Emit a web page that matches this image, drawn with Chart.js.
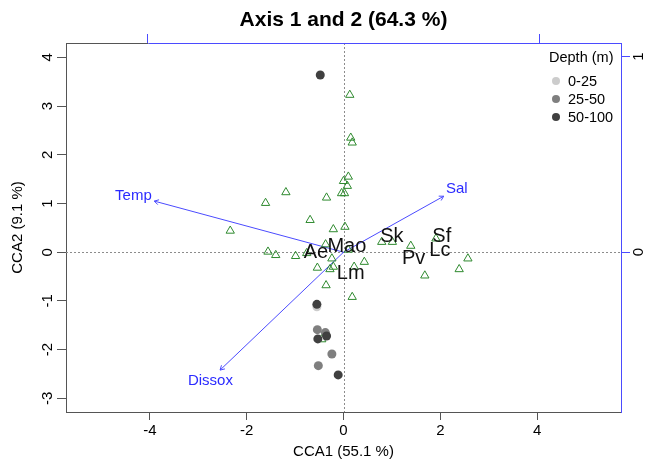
<!DOCTYPE html>
<html><head><meta charset="utf-8">
<script src="https://cdn.jsdelivr.net/npm/chart.js@4/dist/chart.umd.min.js"></script>
<style>html,body{margin:0;padding:0;background:#fff}#wrap{width:650px;height:465px}</style>
</head><body><div id="wrap"><canvas id="c" width="650" height="465"></canvas></div>
<script>
const titleText = 'Axis 1 and 2 (64.3 %)';
const xTitle = 'CCA1 (55.1 %)';
const yTitle = 'CCA2 (9.1 %)';
const xTicks = [-4, -2, 0, 2, 4];
const yTicks = [-3, -2, -1, 0, 1, 2, 3, 4];
const x2Ticks = [-1, 1];
const y2Ticks = [0, 1];

// green triangles
const triX = [0.13, 0.15, 0.18, 0.10, 0.00, 0.08, -0.04, 0.02, -1.19, -0.35, -1.61, -2.34, -0.69, -0.21, 0.03,
  -1.56, -1.40, -0.99, -0.76, -0.37, -0.24, -0.54, -0.28, -0.21, 0.10, 0.22, 0.43, -0.36, 0.18,
  0.79, 1.01, 1.39, 1.91, 1.68, 2.57, 2.39, -0.45];
const triY = [3.23, 2.35, 2.25, 1.55, 1.46, 1.36, 1.21, 1.21, 1.23, 1.12, 1.01, 0.44, 0.66, 0.47, 0.52,
  0.01, -0.06, -0.08, -0.02, 0.16, -0.13, -0.32, -0.35, -0.30, 0.05, -0.30, -0.20, -0.68, -0.92,
  0.21, 0.21, 0.13, 0.28, -0.48, -0.13, -0.35, -1.79];

// species labels
const speciesNames = ['Ae', 'Mao', 'Lm', 'Sk', 'Sf', 'Lc', 'Pv'];
const speciesX = [-0.57, 0.07, 0.15, 1.00, 2.03, 1.99, 1.45];
const speciesY = [0.02, 0.15, -0.41, 0.35, 0.35, 0.07, -0.09];

// environmental arrows
const envNames = ['Temp', 'Sal', 'Dissox'];
const envX = [-3.91, 2.07, -2.55];
const envY = [1.05, 1.15, -2.42];
const envLabelX = [-4.34, 2.34, -2.75];
const envLabelY = [1.19, 1.32, -2.62];

// sites by depth
const depthLabels = ['0-25', '25-50', '50-100'];
const depthColors = ['#cccccc', '#7f7f7f', '#404040'];
const d1X = [-0.55];
const d1Y = [-1.12];
const d2X = [-0.54, -0.375, -0.24, -0.52];
const d2Y = [-1.59, -1.65, -2.09, -2.33];
const d3X = [-0.48, -0.55, -0.53, -0.35, -0.11];
const d3Y = [3.64, -1.07, -1.78, -1.72, -2.52];

const FAM = '"Liberation Sans", Arial, Helvetica, sans-serif';
const BLUE = '#4b4bff';
const BLUET = '#2b2bff';
const GRAY = '#555555';

const pts = (xs, ys) => xs.map((v, i) => ({x: v, y: ys[i]}));

const overlay = {
  id: 'overlay',
  beforeDatasetsDraw(chart) {
    const {ctx, chartArea: a, scales: {x, y}} = chart;
    ctx.save();
    ctx.strokeStyle = '#8c8c8c';
    ctx.lineWidth = 1;
    ctx.setLineDash([2, 2]);
    const px = Math.round(x.getPixelForValue(0)) + 0.5;
    const py = Math.round(y.getPixelForValue(0)) + 0.5;
    ctx.beginPath();
    ctx.moveTo(px, a.top); ctx.lineTo(px, a.bottom);
    ctx.moveTo(a.left, py); ctx.lineTo(a.right, py);
    ctx.stroke();
    ctx.setLineDash([]);
    // arrows
    ctx.strokeStyle = BLUE;
    ctx.lineWidth = 1;
    const ox = x.getPixelForValue(0), oy = y.getPixelForValue(0);
    envX.forEach((ex, i) => {
      const tx = x.getPixelForValue(ex), ty = y.getPixelForValue(envY[i]);
      ctx.beginPath(); ctx.moveTo(ox, oy); ctx.lineTo(tx, ty); ctx.stroke();
      const ang = Math.atan2(ty - oy, tx - ox);
      const L = 5, w = Math.PI / 6;
      ctx.beginPath();
      ctx.moveTo(tx - L * Math.cos(ang - w), ty - L * Math.sin(ang - w));
      ctx.lineTo(tx, ty);
      ctx.lineTo(tx - L * Math.cos(ang + w), ty - L * Math.sin(ang + w));
      ctx.stroke();
    });
    ctx.restore();
  },
  afterDatasetsDraw(chart) {
    const {ctx, chartArea: a, scales: {x, y, x2, y2}} = chart;
    ctx.save();
    // species labels
    ctx.fillStyle = '#111';
    ctx.font = '20px ' + FAM;
    ctx.textAlign = 'center';
    ctx.textBaseline = 'alphabetic';
    speciesNames.forEach((n, i) => {
      ctx.fillText(n, x.getPixelForValue(speciesX[i]), y.getPixelForValue(speciesY[i]) + 7.2);
    });
    // env labels
    ctx.fillStyle = BLUET;
    ctx.font = '15px ' + FAM;
    envNames.forEach((n, i) => {
      ctx.fillText(n, x.getPixelForValue(envLabelX[i]), y.getPixelForValue(envLabelY[i]) + 5.4);
    });
    // top border: gray then blue
    const tb = Math.round(a.top) + 0.5;
    const xm1 = Math.round(x2.getPixelForValue(x2Ticks[0])) + 0.5;
    ctx.lineWidth = 1;
    ctx.strokeStyle = GRAY;
    ctx.beginPath(); ctx.moveTo(a.left, tb); ctx.lineTo(xm1, tb); ctx.stroke();
    ctx.strokeStyle = BLUE;
    ctx.beginPath(); ctx.moveTo(xm1, tb); ctx.lineTo(a.right, tb); ctx.stroke();
    // rotated y tick labels
    ctx.fillStyle = '#000';
    ctx.font = '15px ' + FAM;
    ctx.textAlign = 'center';
    ctx.textBaseline = 'alphabetic';
    yTicks.forEach(v => {
      ctx.save();
      ctx.translate(52.4, y.getPixelForValue(v));
      ctx.rotate(-Math.PI / 2);
      ctx.fillText(String(v), 0, 0);
      ctx.restore();
    });
    y2Ticks.forEach(v => {
      ctx.save();
      ctx.translate(643.4, y2.getPixelForValue(v));
      ctx.rotate(-Math.PI / 2);
      ctx.fillText(String(v), 0, 0);
      ctx.restore();
    });
    // title
    ctx.font = 'bold 21px ' + FAM;
    ctx.fillText(titleText, (a.left + a.right) / 2, 25.5);
    // legend
    ctx.font = '14.5px ' + FAM;
    ctx.textAlign = 'left';
    ctx.fillStyle = '#000';
    ctx.fillText('Depth (m)', 549, 62);
    depthLabels.forEach((lab, i) => {
      const cy = 81 + i * 18;
      ctx.fillStyle = depthColors[i];
      ctx.beginPath(); ctx.arc(556, cy, 4, 0, Math.PI * 2); ctx.fill();
      ctx.fillStyle = '#000';
      ctx.fillText(lab, 568, cy + 5.2);
    });
    ctx.restore();
  }
};

new Chart(document.getElementById('c'), {
  type: 'scatter',
  data: {
    datasets: [
      {label: depthLabels[2], data: pts(d3X, d3Y), pointStyle: 'circle', pointRadius: 4.5,
        backgroundColor: depthColors[2], borderColor: depthColors[2], borderWidth: 0, order: 0},
      {label: depthLabels[1], data: pts(d2X, d2Y), pointStyle: 'circle', pointRadius: 4.5,
        backgroundColor: depthColors[1], borderColor: depthColors[1], borderWidth: 0, order: 1},
      {label: depthLabels[0], data: pts(d1X, d1Y), pointStyle: 'circle', pointRadius: 4.5,
        backgroundColor: depthColors[0], borderColor: depthColors[0], borderWidth: 0, order: 2},
      {label: 'species', data: pts(triX, triY), pointStyle: 'triangle', pointRadius: 4.8,
        backgroundColor: 'rgba(0,0,0,0)', borderColor: '#2f8a2f', borderWidth: 1, order: 3}
    ]
  },
  options: {
    responsive: false,
    animation: false,
    devicePixelRatio: 1,
    layout: {padding: 0},
    plugins: {legend: {display: false}, tooltip: {enabled: false}, title: {display: false}},
    scales: {
      x: {
        type: 'linear', position: 'bottom', min: -5.733, max: 5.733,
        afterBuildTicks: s => { s.ticks = xTicks.map(v => ({value: v})); },
        afterFit: s => { s.height = 53; },
        grid: {drawOnChartArea: false, drawTicks: true, tickLength: 8, color: GRAY, tickColor: GRAY, lineWidth: 1},
        border: {display: true, color: GRAY, width: 1},
        ticks: {color: '#000', font: {size: 15, family: FAM}, padding: 2, maxRotation: 0, autoSkip: false},
        title: {display: true, text: xTitle, color: '#000', font: {size: 15, family: FAM}, padding: {top: 0, bottom: 4}}
      },
      y: {
        type: 'linear', position: 'left', min: -3.281, max: 4.296,
        afterBuildTicks: s => { s.ticks = yTicks.map(v => ({value: v})); },
        afterFit: s => { s.width = 66; },
        grid: {drawOnChartArea: false, drawTicks: true, tickLength: 9, color: GRAY, tickColor: GRAY, lineWidth: 1},
        border: {display: true, color: GRAY, width: 1},
        ticks: {display: false},
        title: {display: true, text: yTitle, color: '#000', font: {size: 15, family: FAM}, padding: {top: 9, bottom: 0}}
      },
      x2: {
        type: 'linear', position: 'top', min: -1.419, max: 1.419,
        afterBuildTicks: s => { s.ticks = x2Ticks.map(v => ({value: v})); },
        afterFit: s => { s.height = 43; },
        grid: {drawOnChartArea: false, drawTicks: true, tickLength: 9, color: BLUE, tickColor: BLUE, lineWidth: 1},
        border: {display: false},
        ticks: {display: false}
      },
      y2: {
        type: 'linear', position: 'right', min: -0.8166, max: 1.069,
        afterBuildTicks: s => { s.ticks = y2Ticks.map(v => ({value: v})); },
        afterFit: s => { s.width = 29; },
        grid: {drawOnChartArea: false, drawTicks: true, tickLength: 9, color: BLUE, tickColor: BLUE, lineWidth: 1},
        border: {display: true, color: BLUE, width: 1},
        ticks: {display: false}
      }
    }
  },
  plugins: [overlay]
});
</script>
</body></html>
